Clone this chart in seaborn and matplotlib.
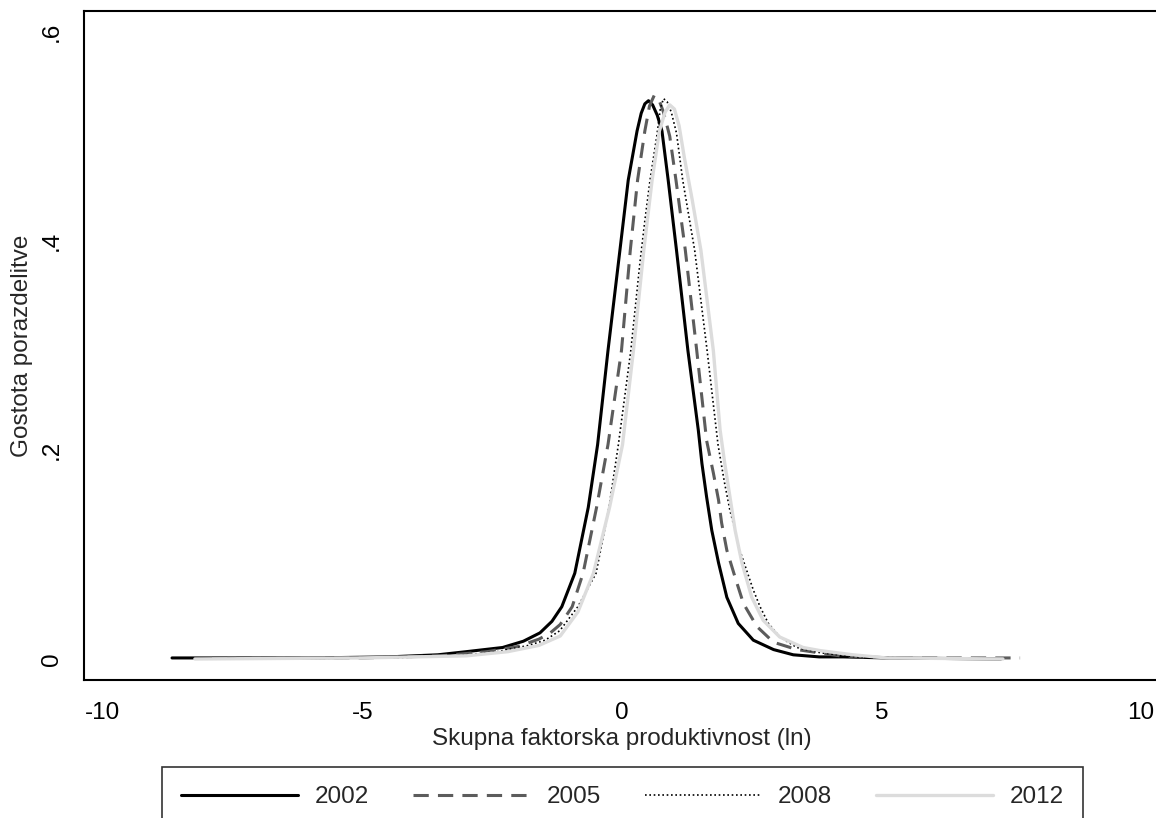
import pandas as pd
import matplotlib
matplotlib.use("Agg")
import matplotlib.pyplot as plt
import seaborn as sns

# kernel density curves (x = TFP in logs, y = density)
years = ["2002", "2005", "2008", "2012"]

x_2002 = [-8.67, -8.23, -6.0, -4.5, -3.55, -3.0, -2.3, -1.9, -1.58, -1.35, -1.16, -0.91,
          -0.65, -0.47, -0.27, -0.04, 0.12, 0.29, 0.37, 0.44, 0.51, 0.59, 0.68, 0.77, 0.89,
          1.05, 1.27, 1.47, 1.54, 1.63, 1.73, 1.86, 2.02, 2.24, 2.53, 2.92, 3.3, 3.8,
          4.26, 5.1, 7.3]
y_2002 = [0.001, 0.001, 0.001, 0.002, 0.004, 0.007, 0.011, 0.017, 0.025, 0.036, 0.050, 0.082,
          0.145, 0.205, 0.295, 0.391, 0.458, 0.505, 0.522, 0.531, 0.534, 0.530, 0.520, 0.505, 0.458,
          0.391, 0.295, 0.219, 0.187, 0.155, 0.123, 0.092, 0.059, 0.034, 0.018, 0.009, 0.004, 0.002,
          0.002, 0.001, 0.0]

x_2005 = [-7.9, -5.0, -3.5, -2.6, -2.0, -1.60, -1.38, -1.19, -0.96, -0.75, -0.49, -0.27,
          -0.01, 0.16, 0.30, 0.44, 0.53, 0.62, 0.71, 0.80, 0.92, 1.04, 1.22, 1.44, 1.63,
          1.76, 1.86, 1.92, 2.02, 2.18, 2.34, 2.60, 2.92, 3.37, 4.2, 5.2, 7.67]
y_2005 = [0.001, 0.001, 0.003, 0.007, 0.012, 0.019, 0.025, 0.033, 0.050, 0.082, 0.145, 0.205,
          0.295, 0.391, 0.458, 0.505, 0.529, 0.539, 0.535, 0.523, 0.500, 0.458, 0.391, 0.295, 0.209,
          0.178, 0.152, 0.130, 0.104, 0.078, 0.053, 0.031, 0.016, 0.009, 0.003, 0.001, 0.001]

x_2008 = [-8.0, -4.5, -3.2, -2.4, -1.8, -1.48, -1.2, -0.85, -0.50, -0.25, -0.07, 0.17,
          0.35, 0.44, 0.54, 0.67, 0.74, 0.80, 0.87, 0.95, 1.05, 1.17, 1.40, 1.64, 1.85,
          1.97, 2.08, 2.18, 2.27, 2.40, 2.53, 2.66, 2.82, 3.04, 3.37, 3.82, 4.5, 5.5, 7.3]
y_2008 = [0.0, 0.001, 0.003, 0.007, 0.013, 0.018, 0.027, 0.050, 0.082, 0.145, 0.205, 0.295,
          0.381, 0.419, 0.458, 0.500, 0.527, 0.536, 0.533, 0.523, 0.503, 0.458, 0.391, 0.295, 0.205,
          0.170, 0.142, 0.123, 0.104, 0.085, 0.066, 0.050, 0.034, 0.021, 0.011, 0.006, 0.002, 0.001, 0.0]

x_2012 = [-8.23, -5.0, -3.0, -2.2, -1.6, -1.19, -0.85, -0.55, -0.24, 0.01, 0.22, 0.42,
          0.58, 0.72, 0.83, 0.92, 1.01, 1.10, 1.20, 1.35, 1.52, 1.76, 1.89, 1.98, 2.08,
          2.18, 2.31, 2.50, 2.72, 3.04, 3.49, 3.82, 4.45, 5.1, 7.34]
y_2012 = [0.0, 0.001, 0.003, 0.007, 0.013, 0.022, 0.045, 0.082, 0.145, 0.205, 0.295, 0.391,
          0.458, 0.505, 0.523, 0.530, 0.526, 0.510, 0.480, 0.440, 0.391, 0.295, 0.219, 0.187, 0.155,
          0.123, 0.092, 0.059, 0.037, 0.021, 0.011, 0.008, 0.004, 0.001, 0.0]

xs = {"2002": x_2002, "2005": x_2005, "2008": x_2008, "2012": x_2012}
ys = {"2002": y_2002, "2005": y_2005, "2008": y_2008, "2012": y_2012}

# line styles per year (stata-ish)
styles = {
    "2002": dict(color="black", lw=2.2, linestyle="-"),
    "2005": dict(color="#5c5c5c", lw=2.2, linestyle=(0, (5, 3))),
    "2008": dict(color="black", lw=1.2, linestyle=(0, (1, 1.6))),
    "2012": dict(color="#dcdcdc", lw=2.4, linestyle="-"),
}

sns.set_style("white")
plt.rcParams["font.family"] = ["Liberation Sans", "DejaVu Sans"]
fs = 17.5

fig = plt.figure(figsize=(11.56, 8.18), dpi=100)
ax = fig.add_axes([84 / 1156, 1 - 680 / 818, (1160 - 84) / 1156, (680 - 11) / 818])

for yr in years:
    df = pd.DataFrame({"x": xs[yr], "y": ys[yr]})
    sns.lineplot(data=df, x="x", y="y", ax=ax, estimator=None, label=yr, **styles[yr])

ax.set_xlim(-10.366, 10.366)
ax.set_ylim(-0.0201, 0.6198)
ax.set_xticks([-10, -5, 0, 5, 10])
ax.set_xticklabels(["-10", "-5", "0", "5", "10"])
ax.set_yticks([0, 0.2, 0.4, 0.6])
ax.set_yticklabels(["0", ".2", ".4", ".6"], rotation=90, va="center")
ax.tick_params(axis="both", direction="out", length=7, width=1.1, color="black",
               labelsize=fs, labelcolor="black")
ax.tick_params(axis="x", pad=8.5)
ax.tick_params(axis="y", pad=8)
for sp in ax.spines.values():
    sp.set_visible(True)
    sp.set_color("black")
    sp.set_linewidth(1.5)

ax.set_xlabel("Skupna faktorska produktivnost (ln)", fontsize=fs, va="center")
ax.set_ylabel("Gostota porazdelitve", fontsize=fs, va="center")
ax.xaxis.set_label_coords(0.5, -59 / 669)
ax.yaxis.set_label_coords(-62 / 1076, 0.5)

handles, labels = ax.get_legend_handles_labels()
ax.get_legend().remove()
leg = fig.legend(handles, labels, loc="upper center", bbox_to_anchor=(622.5 / 1156, 1 - 767 / 818),
                 ncol=4, fontsize=fs, frameon=True, fancybox=False, edgecolor="black",
                 handlelength=4.8, handletextpad=0.7, columnspacing=1.8, borderpad=0.8,
                 borderaxespad=0)
leg.get_frame().set_linewidth(1.2)

fig.savefig("out.png", dpi=100)
